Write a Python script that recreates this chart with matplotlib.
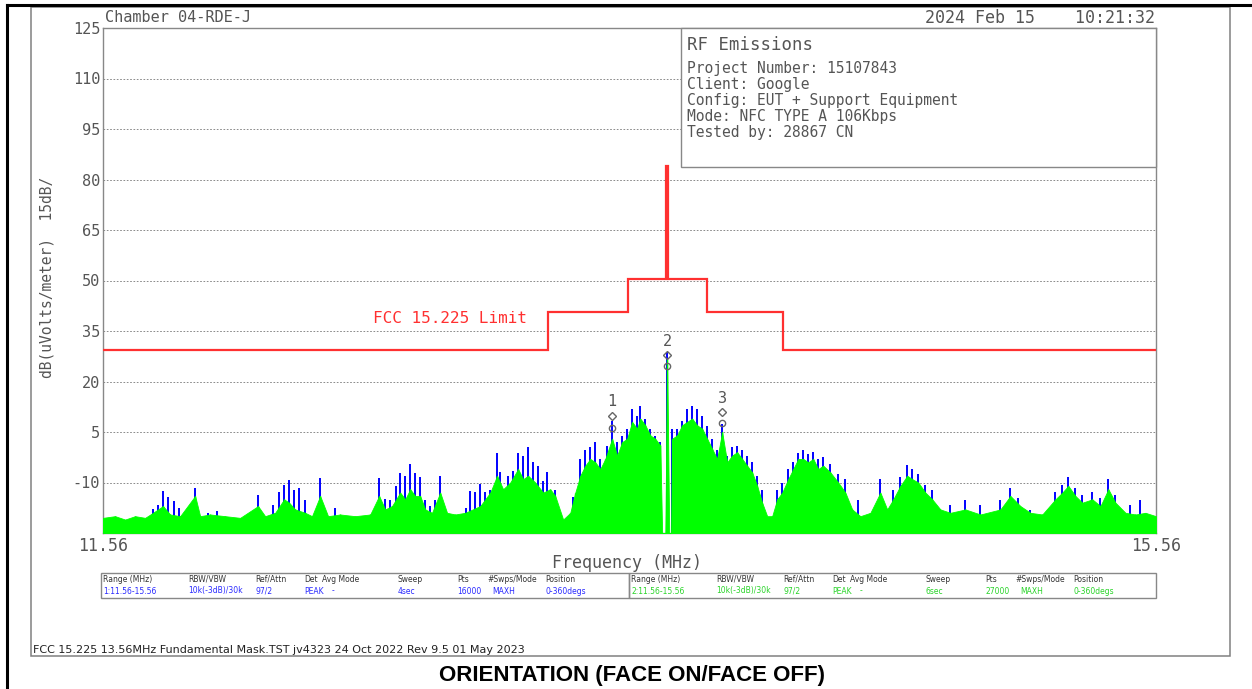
import matplotlib
matplotlib.use("Agg")
import matplotlib.pyplot as plt
from matplotlib.patches import Rectangle
from matplotlib.lines import Line2D

# ---------------- data ----------------
y_ticks = [-10, 5, 20, 35, 50, 65, 80, 95, 110, 125]
x_ticks = [11.56, 15.56]
x_tick_labels = ["11.56", "15.56"]

# FCC 15.225 limit mask (step edges in MHz, levels in dBuV/m)
limit_edges = [11.56, 13.250, 13.554, 13.700, 13.706, 13.854, 14.143, 15.56]
limit_levels = [29.5, 40.5, 50.5, 84.0, 50.5, 40.5, 29.5]

# Trace 1 (blue, peak max-hold) - spike peaks
blue_freq = [11.750, 11.769, 11.788, 11.807, 11.830, 11.849, 11.910, 11.959, 11.993,
             12.149, 12.206, 12.229, 12.248, 12.267, 12.286, 12.305, 12.328, 12.385, 12.442,
             12.609, 12.632, 12.651, 12.673, 12.689, 12.708, 12.727, 12.746, 12.765, 12.784,
             12.803, 12.822, 12.841, 12.939, 12.955, 12.974, 12.993, 13.012, 13.031, 13.057,
             13.069, 13.088, 13.099, 13.118, 13.137, 13.156, 13.175, 13.194, 13.213, 13.232,
             13.247, 13.278, 13.346, 13.373, 13.392, 13.411, 13.430, 13.449, 13.475, 13.494,
             13.513, 13.532, 13.551, 13.570, 13.589, 13.601, 13.620, 13.639, 13.658, 13.677,
             13.703, 13.722, 13.741, 13.760, 13.779, 13.798, 13.817, 13.836, 13.855, 13.874,
             13.893, 13.912, 13.931, 13.950, 13.969, 13.988, 14.007, 14.026, 14.045, 14.064,
             14.121, 14.140, 14.163, 14.182, 14.201, 14.220, 14.239, 14.258, 14.277, 14.296,
             14.323, 14.353, 14.380, 14.429, 14.513, 14.562, 14.589, 14.615, 14.634, 14.657,
             14.684, 14.710, 14.779, 14.836, 14.893, 14.969, 15.007, 15.037, 15.083, 15.178,
             15.204, 15.227, 15.254, 15.280, 15.318, 15.349, 15.379, 15.406, 15.463, 15.501]
blue_peak = [-17.8, -16.6, -12.4, -14.2, -15.4, -17.5, -11.5, -19.0, -18.6,
             -13.6, -16.6, -12.7, -10.6, -9.4, -12.1, -11.5, -15.1, -8.8, -17.5,
             -8.8, -14.8, -15.1, -10.9, -7.3, -8.2, -4.6, -7.3, -8.5, -15.1,
             -16.9, -15.1, -8.2, -17.5, -12.4, -12.7, -10.3, -12.7, -12.1, -1.1,
             -7.0, -13.0, -8.2, -6.7, -1.1, -2.2, 0.4, -4.0, -5.2, -9.7,
             -7.0, -12.1, -14.2, -3.1, -0.2, 0.4, 1.9, -3.1, 0.7, 8.2,
             1.9, 3.7, 5.8, 11.8, 9.7, 12.7, 8.8, 5.8, 3.7, 1.9,
             28.8, 5.8, 5.8, 8.2, 11.8, 12.7, 11.8, 9.7, 6.7, 2.8,
             -0.2, 7.3, -2.2, 0.4, 0.7, -0.2, -2.2, -4.0, -8.2, -12.1,
             -12.1, -10.0, -6.1, -4.0, -1.1, -0.2, -1.6, -0.8, -3.1, -2.5,
             -4.6, -7.6, -9.1, -15.1, -9.1, -12.1, -8.5, -4.9, -6.1, -7.6,
             -10.6, -12.1, -16.6, -15.1, -16.6, -15.1, -11.5, -14.5, -18.1, -12.7,
             -10.6, -8.5, -11.5, -13.6, -12.7, -14.5, -9.1, -13.6, -16.6, -15.1]

# Trace 2 (green, peak max-hold) - envelope
green_freq = [11.560, 11.606, 11.644, 11.682, 11.720, 11.750, 11.788, 11.815, 11.853, 11.910,
              11.929, 11.967, 12.024, 12.081, 12.149, 12.176, 12.214, 12.248, 12.267, 12.290,
              12.328, 12.354, 12.385, 12.415, 12.461, 12.518, 12.575, 12.609, 12.632, 12.658,
              12.689, 12.708, 12.727, 12.746, 12.765, 12.784, 12.810, 12.841, 12.867, 12.898,
              12.936, 12.993, 13.031, 13.057, 13.080, 13.107, 13.137, 13.156, 13.175, 13.202,
              13.232, 13.259, 13.278, 13.308, 13.335, 13.354, 13.373, 13.392, 13.411, 13.430,
              13.449, 13.468, 13.494, 13.513, 13.532, 13.551, 13.570, 13.589, 13.601, 13.620,
              13.639, 13.658, 13.677, 13.684, 13.696, 13.703, 13.711, 13.718, 13.722, 13.741,
              13.760, 13.779, 13.798, 13.817, 13.836, 13.855, 13.874, 13.893, 13.912, 13.931,
              13.950, 13.969, 13.988, 14.007, 14.026, 14.045, 14.064, 14.083, 14.102, 14.121,
              14.140, 14.163, 14.182, 14.201, 14.220, 14.239, 14.258, 14.277, 14.296, 14.323,
              14.353, 14.380, 14.406, 14.437, 14.475, 14.513, 14.539, 14.562, 14.589, 14.615,
              14.634, 14.657, 14.684, 14.710, 14.741, 14.779, 14.836, 14.893, 14.969, 15.007,
              15.045, 15.083, 15.128, 15.178, 15.204, 15.227, 15.254, 15.280, 15.318, 15.349,
              15.379, 15.406, 15.444, 15.482, 15.520, 15.560]
green_level = [-20.5, -20, -21, -20, -20.5, -19, -17, -19.5, -20, -14,
               -20, -19.5, -20, -20.5, -17, -20, -19, -15, -16, -18,
               -19, -20, -14, -20, -19.5, -20, -19.5, -14, -18, -17,
               -13, -15, -12, -14, -14, -18, -19, -13, -19, -19.5,
               -19, -17, -13, -8, -12, -10, -6, -9, -8, -10,
               -13, -12, -14, -21, -19, -13, -8, -5, -3, -4,
               -6, -3, 3, -2, 2, 3, 8, 6, 9, 7,
               4, 3, 1, -25, -25, 26.7, -25, -25, 3, 4,
               7, 8, 9, 7, 6, 3, 0, -3, 5, -4,
               -2, -1, -3, -5, -7, -11, -16, -20, -20, -15,
               -13, -9, -6, -3, -3, -4, -3, -6, -5, -7,
               -10, -13, -18, -20, -19, -13, -18, -15, -11, -8,
               -9, -10, -13, -15, -18, -19, -18, -19.5, -18, -14,
               -17, -19, -19.5, -15, -13, -11, -14, -16, -15, -17,
               -12, -16, -19, -19.5, -19, -20]

floor_level = -25.0

# Markers
marker_ids = ["1", "2", "3"]
marker_freq = [13.494, 13.703, 13.912]
marker_trace1 = [9.9, 28.0, 10.8]
marker_trace2 = [6.3, 24.7, 7.8]

info_lines = ["Project Number: 15107843", "Client: Google",
              "Config: EUT + Support Equipment", "Mode: NFC TYPE A 106Kbps",
              "Tested by: 28867 CN"]

table_headers = ["Range (MHz)", "RBW/VBW", "Ref/Attn", "Det", "Avg Mode", "Sweep",
                 "Pts", "#Swps/Mode", "Position"]
table_row1 = ["1:11.56-15.56", "10k(-3dB)/30k", "97/2", "PEAK", "-", "4sec",
              "16000", "MAXH", "0-360degs"]
table_row2 = ["2:11.56-15.56", "10k(-3dB)/30k", "97/2", "PEAK", "-", "6sec",
              "27000", "MAXH", "0-360degs"]

# ---------------- styling ----------------
MONO = "DejaVu Sans Mono"
TXT = "#555555"
BLUE = "#0000ff"
GREEN = "#00ff00"
RED = "#ff3030"
FRAME = "#888888"

W, H = 1252, 689
fig = plt.figure(figsize=(W / 100, H / 100), dpi=100)
fig.patch.set_facecolor("white")

def fx(px):
    return px / W

def fy(py):
    return 1 - py / H

ax = fig.add_axes([fx(103), fy(533), fx(1156) - fx(103), fy(28) - fy(533)])
ax.set_xlim(11.56, 15.56)
ax.set_ylim(-25, 125)

for s in ax.spines.values():
    s.set_color(FRAME)
    s.set_linewidth(1.0)

ax.set_yticks(y_ticks)
ax.set_yticklabels([str(v) for v in y_ticks], fontfamily=MONO, fontsize=11, color=TXT)
ax.set_xticks(x_ticks)
ax.set_xticklabels(x_tick_labels, fontfamily=MONO, fontsize=12, color=TXT)
ax.tick_params(axis="both", length=0)
ax.tick_params(axis="y", pad=2)
ax.tick_params(axis="x", pad=3)
ax.yaxis.grid(True, color="#777777", linestyle=(0, (2, 2)), linewidth=0.6)
ax.set_axisbelow(True)

# traces
ax.vlines(blue_freq, floor_level, blue_peak, color=BLUE, linewidth=1.4, zorder=2)
ax.fill_between(green_freq, floor_level, green_level, color=GREEN, linewidth=0.6,
                edgecolor=GREEN, zorder=3)
ax.vlines(green_freq, floor_level, green_level, color=GREEN, linewidth=1.0, zorder=3)

# limit line
ax.stairs(limit_levels, limit_edges, color=RED, linewidth=1.6, zorder=4, baseline=None)
ax.text(12.878, 38.7, "FCC 15.225 Limit", color=RED, fontfamily=MONO, fontsize=11.5,
        ha="center", va="center", zorder=4)

# markers
ax.plot(marker_freq, marker_trace1, linestyle="none", marker="D", markersize=4.5,
        markerfacecolor="none", markeredgecolor="#666666", zorder=6)
ax.plot(marker_freq, marker_trace2, linestyle="none", marker="o", markersize=4.5,
        markerfacecolor="none", markeredgecolor="#666666", zorder=6)
for mid, f, v in zip(marker_ids, marker_freq, marker_trace1):
    ax.text(f, v + 1.8, mid, fontfamily=MONO, fontsize=11, color="#555555",
            ha="center", va="bottom", zorder=6)

# info box
ax.add_patch(Rectangle(((681 - 103) / 1053, (533 - 167) / 505), (1156 - 681) / 1053,
                       (167 - 28) / 505, transform=ax.transAxes, facecolor="white",
                       edgecolor=FRAME, linewidth=1.0, zorder=7, clip_on=False))
fig.text(fx(687), fy(45), "RF Emissions", fontfamily=MONO, fontsize=12.5, color=TXT,
         va="center", ha="left")
for i, line in enumerate(info_lines):
    fig.text(fx(687), fy(69 + 16 * i), line, fontfamily=MONO, fontsize=10.5, color=TXT,
             va="center", ha="left")

# header texts
fig.text(fx(105), fy(18), "Chamber 04-RDE-J", fontfamily=MONO, fontsize=11, color=TXT,
         va="center", ha="left")
fig.text(fx(1155), fy(18), "2024 Feb 15    10:21:32", fontfamily=MONO, fontsize=12,
         color=TXT, va="center", ha="right")

# axis labels
fig.text(fx(47), fy(277), "dB(uVolts/meter)  15dB/", fontfamily=MONO, fontsize=10.5,
         color=TXT, rotation=90, ha="center", va="center")
fig.text(fx(627), fy(563), "Frequency (MHz)", fontfamily=MONO, fontsize=12, color=TXT,
         ha="center", va="center")

# settings table
col_px = [103, 188, 255, 304, 322, 398, 457, 487, 545]
val_px = [103, 188, 255, 304, 332, 398, 457, 492, 545]
for box_left, box_right, row, color in [(101, 629, table_row1, "#2a2aff"),
                                         (629, 1156, table_row2, "#2ad42a")]:
    fig.add_artist(Rectangle((fx(box_left), fy(598)), fx(box_right) - fx(box_left),
                             fy(573) - fy(598), transform=fig.transFigure,
                             facecolor="none", edgecolor=FRAME, linewidth=1.0))
    off = box_left - 101
    for hx, vx, head, val in zip(col_px, val_px, table_headers, row):
        fig.text(fx(hx + off), fy(579), head, fontsize=5.5, color="#333333",
                 ha="left", va="center")
        fig.text(fx(vx + off), fy(591), val, fontsize=5.5, color=color,
                 ha="left", va="center")

# footer
fig.text(fx(33), fy(650),
         "FCC 15.225 13.56MHz Fundamental Mask.TST jv4323 24 Oct 2022 Rev 9.5 01 May 2023",
         fontsize=8, color="#222222", ha="left", va="center")
fig.text(fx(632), fy(675), "ORIENTATION (FACE ON/FACE OFF)", fontfamily="Liberation Sans",
         fontsize=16, fontweight="bold", color="black", ha="center", va="center")

# outer frames
fig.add_artist(Rectangle((fx(31), fy(656)), fx(1230) - fx(31), fy(7) - fy(656),
                         transform=fig.transFigure, facecolor="none",
                         edgecolor="#808080", linewidth=1.1))
fig.add_artist(Line2D([fx(7), 1.0], [fy(5), fy(5)], color="black", linewidth=2.2,
                      transform=fig.transFigure))
fig.add_artist(Line2D([fx(7), fx(7)], [0.0, fy(5)], color="black", linewidth=2.2,
                      transform=fig.transFigure))

fig.savefig("out.png", dpi=100, facecolor="white")
